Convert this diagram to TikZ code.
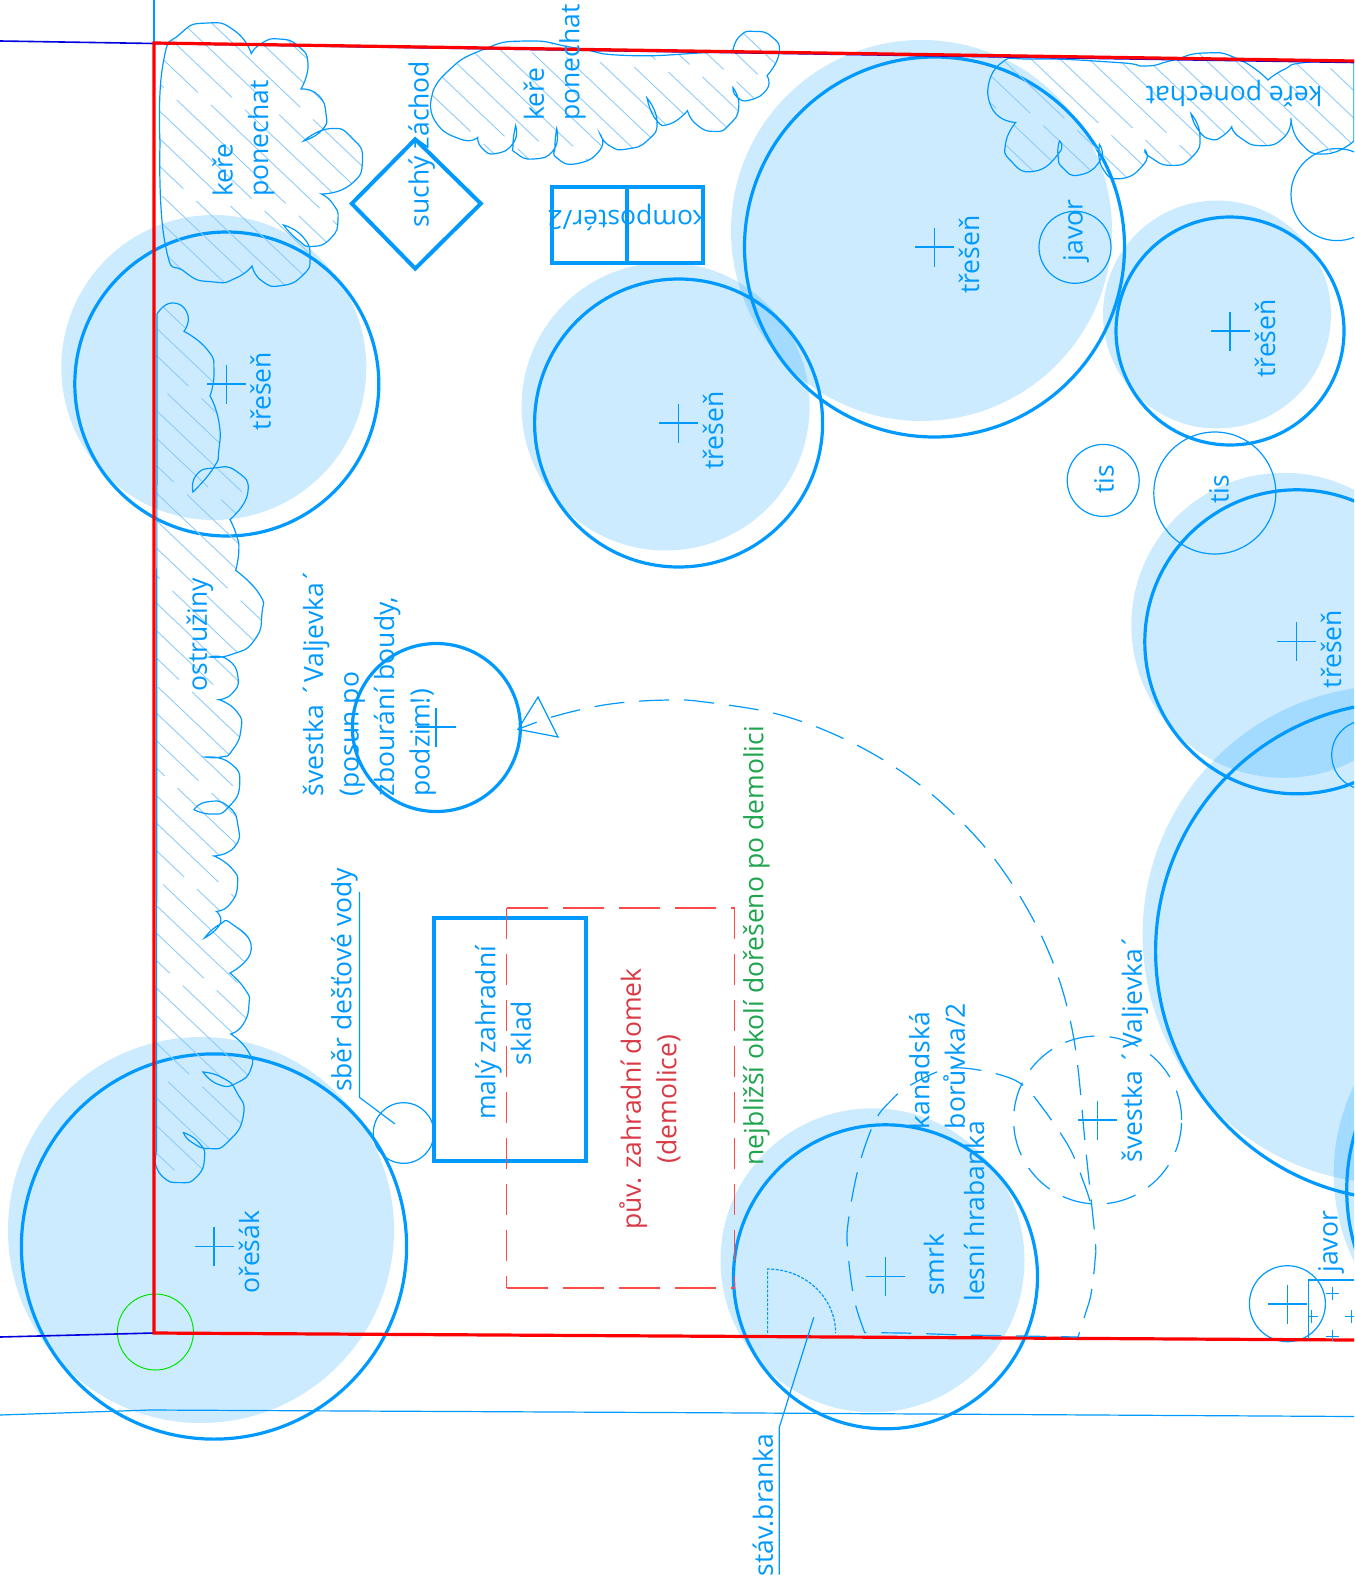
\documentclass[tikz,border=0pt]{standalone}
\usepackage{fontspec}
\setmainfont{Open Sans}
\definecolor{planBlue}{HTML}{0099FF}
\definecolor{hatchBlue}{HTML}{8ECCFB}
\definecolor{planRed}{HTML}{FF0000}
\definecolor{oldRed}{HTML}{FF4A4A}
\definecolor{textRed}{HTML}{D93A45}
\definecolor{textGreen}{HTML}{1FA54E}
\tikzset{
    every plot/.style={smooth,tension=1},
    treeFill/.style={fill=planBlue,fill opacity=0.2},
    thickEdge/.style={draw=planBlue,line width=3.2pt},
    wallEdge/.style={draw=planBlue,line width=4pt},
    thinEdge/.style={draw=planBlue,line width=1.2pt},
    hatchEdge/.style={draw=hatchBlue,line width=0.9pt,dash pattern=on 150pt off 18pt},
    dashEdge/.style={thinEdge,dash pattern=on 30pt off 15pt},
    planLabel/.style={text=planBlue,inner sep=0pt,align=left,font=\fontsize{26.5}{35.5}\selectfont},
    upLabel/.style={planLabel,rotate=90},
    downLabel/.style={planLabel,rotate=180}
}
\def\bushTopLeft{plot coordinates {(160,143) (163,64) (180,34) (207.6,23) (235,31) (251.3,53.6)}
    -- plot coordinates {(251.3,53.6) (262,43) (279,39) (298,46) (308,64) (301,89)}
    -- plot coordinates {(301,89) (318,95) (326,114) (322,130) (303.6,141)}
    -- plot coordinates {(303.6,141) (330,128.6) (352,138) (362.5,160.7) (350,185) (321.4,194)}
    -- plot coordinates {(321.4,194) (333,204) (338,219.6) (331,238) (312.5,246.4) (298,240) (283.5,225)}
    -- plot coordinates {(283.5,225) (303,237) (310,257) (303,275) (281,285.7) (262,281) (252,266)}
    -- plot coordinates {(252,266) (236,278) (214,282) (185,272) (165,243) (160,143)} -- cycle}
\def\bushTop{plot coordinates {(432,96) (446,73) (482,50) (527,41) (576,48) (625,55.4) (700,53) (733,50)}
    -- plot coordinates {(733,50) (740,36) (754,31.4) (772,37) (779,53.6) (767,75.7)}
    -- plot coordinates {(767,75.7) (767,89) (750,100) (737,97) (733,87.5)}
    -- plot coordinates {(733,87.5) (738.8,107) (729,125) (714.6,131.4) (697,125) (687.5,110.7)}
    -- plot coordinates {(687.5,110.7) (669.6,124) (656,119.6) (647,98)}
    -- plot coordinates {(647,98) (657,121) (648,140) (627,149) (610,146) (600,134)}
    -- plot coordinates {(600,134) (600,150) (577,163.6) (557,158) (555,146) (556.7,128.6)}
    -- plot coordinates {(556.7,128.6) (553.6,150) (533.5,159) (516,153) (513,144.6) (515.6,125.7)}
    -- plot coordinates {(515.6,125.7) (513.4,143) (495.5,153.6) (482,148) (477.7,137.5)}
    -- plot coordinates {(477.7,137.5) (460,139) (435,121) (432,96)} -- cycle}
\def\bushRight{plot coordinates {(987.7,92.9) (1000,64) (1033.6,59) (1117,62.5) (1146,66) (1171,60.7) (1204.6,53) (1238,59) (1268,80)}
    -- plot coordinates {(1268,80) (1283.8,69.6) (1304.7,62.5) (1354,60.7)}
    -- (1354,141)
    -- plot coordinates {(1354,141) (1325.5,154) (1300.5,143) (1291,118)}
    -- plot coordinates {(1291,118) (1283.8,137.5) (1261,145.7) (1240,137.5) (1231.7,126.8)}
    -- plot coordinates {(1231.7,126.8) (1223,135.7) (1211,139.3) (1198.3,130) (1191,113.6)}
    -- plot coordinates {(1191,113.6) (1200,135.7) (1192,157) (1171,165.4) (1150,157) (1145,150)}
    -- plot coordinates {(1145,150) (1144,164) (1121,178.6) (1102.4,168) (1099.5,144.6)}
    -- plot coordinates {(1099.5,144.6) (1100,160.7) (1079.5,175) (1063,168) (1058,155) (1059.5,141)}
    -- plot coordinates {(1059.5,141) (1058.6,153.6) (1033.6,171.4) (1010.7,160.7) (1005.7,143) (1015.7,122.5)}
    -- plot coordinates {(1015.7,122.5) (996,114) (987.7,92.9)} -- cycle}
\def\bushLong{plot coordinates {(157,314) (172,303) (187.5,314) (184,331.4)}
    -- plot coordinates {(184,331.4) (207.6,350) (214,371) (210,396)}
    -- plot coordinates {(210,396) (218.8,421.4) (218.8,450) (213.4,468) (192.9,492)}
    -- plot coordinates {(192.9,492) (196.4,475) (214,468) (236.6,471.4) (247.8,493) (230,519.6)}
    -- plot coordinates {(230,519.6) (236.6,535.7) (238.8,550.7) (235.7,570.4)}
    -- plot coordinates {(235.7,570.4) (259,593.6) (262,613) (254.5,640) (232,654.3) (209.8,657)}
    -- plot coordinates {(209.8,657) (227.7,659.6) (238,677.5) (232,693.6) (218.8,699.6)}
    -- plot coordinates {(218.8,699.6) (236.6,711.4) (241,729.3) (232,750.7) (221,757) (205.4,757)}
    -- plot coordinates {(205.4,757) (230,763) (239.7,784.6) (227.7,807.9) (212,814) (194,809.6)}
    -- plot coordinates {(194,809.6) (207.6,801.8) (227.7,806) (238,825.7) (234.4,847) (214,856)}
    -- plot coordinates {(214,856) (232,868.6) (237.5,884.6) (230,904) (216.5,911.4)}
    -- plot coordinates {(216.5,911.4) (220,924) (204.5,938)}
    -- plot coordinates {(204.5,938) (218.8,925) (232,924) (251.3,949) (230,973)}
    -- plot coordinates {(230,973) (245.5,990) (249,1004) (243.3,1024) (230.8,1034)}
    -- plot coordinates {(230.8,1034) (247.8,1050.7) (251,1068.6) (236.6,1083) (218.8,1084.6) (203,1072)}
    -- plot coordinates {(203,1072) (223,1078) (236.6,1092) (243.3,1116) (227.7,1142) (209.8,1148.6) (192,1142.4) (183.5,1132.6)}
    -- plot coordinates {(183.5,1132.6) (198.7,1142.4) (204.5,1158) (196.4,1177) (180,1182.6) (163,1177) (155,1161.4)}
    -- (156.5,1150) -- (157,314) -- cycle}
\begin{document}
\begin{tikzpicture}[x=1pt,y=-1pt]
    \useasboundingbox (0,0) rectangle (1354,1584);
    \clip (0,0) rectangle (1354,1584);
    % tree crowns, the shadow first
    \foreach \cx/\cy/\rad in {226.8/384/152.5, 678.6/423/144, 934.5/247/190.5, 1230/331/114,
        1296.8/641.8/152.5, 885.5/1276.8/152, 214/1246.5/193, 1404.6/951/249, 1546.7/1190/200}
        \fill[treeFill] (\cx-13,\cy-16.5) circle[radius=\rad pt];
    \foreach \cx/\cy/\rad in {226.8/384/152, 678.6/423/144, 934.5/247/190, 1230/331/114,
        1296.8/641.8/152, 885.5/1276.8/152, 214/1246.5/192.6, 1404.6/951/249, 1546.7/1190/200,
        436.4/727.5/84}
        \draw[thickEdge] (\cx,\cy) circle[radius=\rad pt];
    % small trees
    \foreach \cx/\cy/\rad in {1075/247.3/36, 1103.2/480.4/36, 1214.8/493/61, 1337/194.6/46,
        1366.4/755/34.7, 403.6/1133/30.3, 1287.4/1303.7/38}
        \draw[thinEdge] (\cx,\cy) circle[radius=\rad pt];
    \draw[draw=green!90!black,line width=1pt] (155.4,1332) circle[radius=38pt];
    \foreach \cx/\cy in {226.8/384, 678.6/423, 934.5/247, 1230/331, 1296.8/641.8, 885.5/1276.8,
        214/1246.5, 436/727, 1097.5/1120, 1287.3/1304}
        \draw[thinEdge] (\cx-19.5,\cy) -- (\cx+19.5,\cy) (\cx,\cy-19.5) -- (\cx,\cy+19.5);
    % bushes
    \foreach \bush in {\bushTopLeft,\bushTop,\bushRight,\bushLong} {
        \begin{scope}
            \clip \bush;
            \foreach \k in {-62,...,28} {
                \pgfmathsetmacro{\shift}{mod((\k+70)*47,168)}
                \draw[hatchEdge,dash phase=\shift pt] (0,427+27.5*\k) -- ++(1400,1330);
            }
        \end{scope}
        \draw[thinEdge] \bush;
    }
    % boundary
    \draw[draw=blue!87!black,line width=1.6pt] (0,41) -- (154,43.5) -- (1354,62.5);
    \draw[draw=blue!87!black,line width=1.6pt] (0,1337) -- (154,1333) -- (1354,1340);
    \draw[thinEdge] (154,0) -- (154,43);
    \draw[draw=planRed,line width=3.2pt] (1354,61) -- (154,43) -- (154,1333) -- (1354,1340);
    \draw[thinEdge] (0,1415) -- (150,1410) -- (700,1412.7) -- (1354,1416.5);
    % buildings
    \draw[wallEdge] (551.5,186.5) rectangle (703.2,263);
    \draw[wallEdge] (627.2,186.5) -- (627.2,263);
    \draw[wallEdge] (351.8,203.6) -- (415.2,139.3) -- (480.8,203.6) -- (415.2,268.6) -- cycle;
    \draw[wallEdge] (434.4,917.5) rectangle (586.2,1161.4);
    \draw[draw=oldRed,line width=1.2pt,dash pattern=on 41pt off 15pt] (506.7,908) -- (734.6,908);
    \draw[draw=oldRed,line width=1.2pt,dash pattern=on 41pt off 15pt] (506.7,1288) -- (734.6,1288);
    \draw[draw=oldRed,line width=1.2pt,dash pattern=on 31pt off 15pt] (506.7,908) -- (506.7,1288);
    \draw[draw=oldRed,line width=1.2pt,dash pattern=on 31pt off 15pt] (734.6,908) -- (734.6,1288);
    % javor hedge corner
    \begin{scope}
        \clip (1308.3,1280) rectangle (1354,1340);
        \foreach \cx/\cy in {1332.7/1293.3, 1311.7/1316.7, 1351.7/1316.7, 1332.7/1336.7}
            \draw[thinEdge] (\cx-6.5,\cy) -- (\cx+6.5,\cy) (\cx,\cy-6.5) -- (\cx,\cy+6.5);
    \end{scope}
    \draw[thinEdge] (1354,1280) -- (1308.3,1280) -- (1308.3,1339);
    % dashed planned things
    \draw[dashEdge] (1097.6,1120) circle[radius=84pt];
    \draw[dashEdge,dash phase=10pt] plot[tension=0.6] coordinates {(518,729.3) (552.7,716.8) (598,706) (636,701.4) (674,700)
        (700,701.4) (762.6,710.7) (806,723) (848,740.7) (887.6,762.5) (925.2,789) (959.4,819.6) (989.8,853)
        (1016,890) (1038.6,930) (1056.5,972) (1069,1015) (1077.4,1063.3) (1085.7,1149) (1095,1238) (1095,1260.7)
        (1091,1294) (1085.7,1312.8) (1078,1337)};
    \draw[dashEdge] plot[tension=0.6] coordinates {(1090,1201) (1083.7,1182.5) (1069,1147) (1039.9,1104.3) (1021,1083.8)
        (996,1073.7) (962.7,1068) (939.8,1070.8) (906.4,1087.5) (891.8,1099.8) (875,1121) (858.5,1167.6)
        (848,1223.5) (848,1253) (854.3,1299.8) (864.7,1332.6)}
        -- (904,1333) -- (962.7,1335) -- (1021,1336) -- (1078,1337);
    \draw[thinEdge] (518,729.3) -- (538,697) -- (558,737) -- cycle;
    \draw[thinEdge,dash pattern=on 3pt off 1.5pt] (767.6,1333) -- (767.6,1269)
        arc[start angle=90,end angle=0,x radius=68pt,y radius=64pt];
    % leaders
    \coordinate (sberTop) at (359.4,891.8);
    \coordinate (sberKnee) at (359.4,1097.3);
    \coordinate (sberEnd) at (395,1124);
    \draw[thinEdge] (sberTop) -- (sberKnee) -- (sberEnd);
    \coordinate (brankaFoot) at (779.2,1574.7);
    \coordinate (brankaKnee) at (779.2,1427.6);
    \coordinate (brankaEnd) at (813.8,1317.3);
    \draw[thinEdge] (brankaFoot) -- (brankaKnee) -- (brankaEnd);
    % labels
    \node[upLabel] (kereA) at (243.5,138.5) {keře\\ponechat};
    \node[upLabel] (kereB) at (554.6,62.5) {keře\\ponechat};
    \node[downLabel] (kereC) at (1234,93) {keře ponechat};
    \node[upLabel] (suchy) at (421.7,144) {suchý záchod};
    \node[downLabel] (kompost) at (627,217) {kompostér/2};
    \node[upLabel] (tresenA) at (260.7,391) {třešeň};
    \node[upLabel] (tresenB) at (713,430.5) {třešeň};
    \node[upLabel] (tresenC) at (969,254.5) {třešeň};
    \node[upLabel] (tresenD) at (1265,338.4) {třešeň};
    \node[upLabel] (tresenE) at (1331,649) {třešeň};
    \node[upLabel] (javorA) at (1076,230.4) {javor};
    \node[upLabel] (javorB) at (1331,1241.7) {javor};
    \node[upLabel] (tisA) at (1104,479) {tis};
    \node[upLabel] (tisB) at (1219,489) {tis};
    \node[upLabel] (ostruz) at (200,634.6) {ostružiny};
    \node[upLabel] (svestkaA) at (369.5,682) {švestka ´Valjevka´\\(posun po\\zbourání boudy,\\podzim!)};
    \node[upLabel] (svestkaB) at (1135,1048) {švestka ´Valjevka´};
    \node[upLabel] (sber) at (344.5,980) {sběr dešťové vody};
    \node[upLabel,align=center] (sklad) at (503,1033) {malý zahradní\\sklad};
    \node[upLabel,align=center,text=textRed] (domek) at (650,1099) {pův. zahradní domek\\(demolice)};
    \node[upLabel,text=textGreen] (okoli) at (756.5,946) {nejbližší okolí dořešeno po demolici};
    \node[upLabel] (boruvka) at (937,1066) {kanadská\\borůvka/2};
    \node[upLabel] (smrk) at (934,1264.7) {smrk};
    \node[upLabel] (hrabanka) at (974,1211) {lesní hrabanka};
    \node[upLabel] (oresak) at (249,1252) {ořešák};
    \node[upLabel] (branka) at (763,1505) {stáv.branka};
\end{tikzpicture}
\end{document}
